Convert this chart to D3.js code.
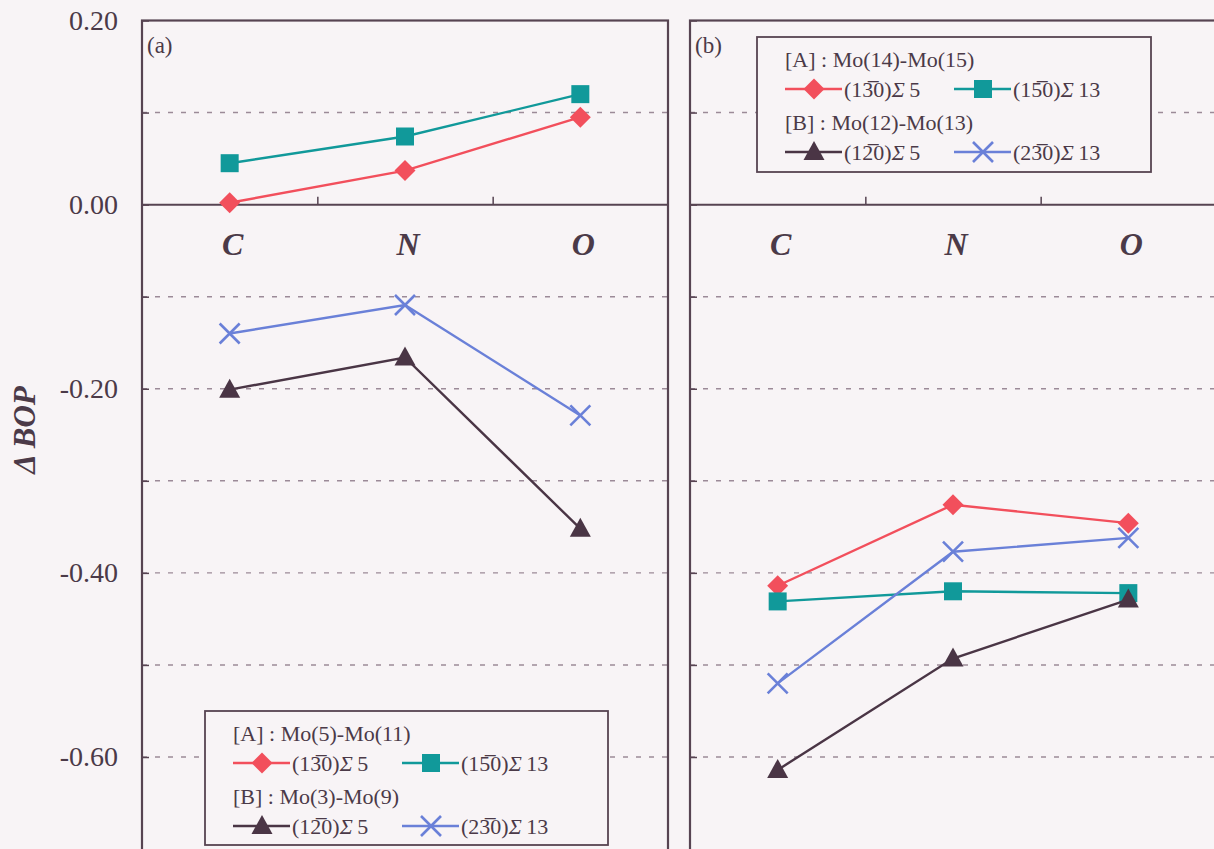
<!DOCTYPE html>
<html>
<head>
<meta charset="utf-8">
<script src="https://cdn.jsdelivr.net/npm/d3@7.9.0/dist/d3.min.js"></script>
<style>
  html, body { margin: 0; padding: 0; background: #f8f4f6; }
  svg { display: block; }
  text { font-family: "Liberation Serif", "Times New Roman", serif; fill: #4b3a48; }
</style>
</head>
<body>
<svg id="chart" width="1214" height="849"></svg>
<script>
// categories and tick values
const categories = ['C', 'N', 'O'];
const yTickLabels = [0.2, 0, -0.2, -0.4, -0.6];
const gridValues = [0.1, -0.1, -0.2, -0.3, -0.4, -0.5, -0.6];

// panel (a): [A] Mo(5)-Mo(11), [B] Mo(3)-Mo(9)
const aRed  = [0.002, 0.037, 0.095];
const aTeal = [0.045, 0.074, 0.120];
const aDark = [-0.201, -0.166, -0.352];
const aBlue = [-0.140, -0.109, -0.229];

// panel (b): [A] Mo(14)-Mo(15), [B] Mo(12)-Mo(13)
const bRed  = [-0.414, -0.326, -0.346];
const bTeal = [-0.431, -0.420, -0.422];
const bDark = [-0.614, -0.493, -0.429];
const bBlue = [-0.520, -0.377, -0.362];

// series names: [prefix, barred digit, suffix, sigma number]
const seriesNames = [
  ['(1', '3', '0)', '5'],
  ['(1', '5', '0)', '13'],
  ['(1', '2', '0)', '5'],
  ['(2', '3', '0)', '13']
];
const seriesColors = ['#f24f5c', '#11999a', '#4a3545', '#6a80d8'];
const seriesMarkers = ['diamond', 'square', 'triangle', 'cross'];

const axisColor = '#574452';

const svg = d3.select('#chart');

const y = d3.scaleLinear().domain([0.2, -0.6]).range([20.5, 757]);

const panels = [
  { label: '(a)', x0: 142, x1: 668, series: [aRed, aTeal, aDark, aBlue],
    legend: { x: 205, y: 711, w: 403, h: 134, pairs: ['[A] : Mo(5)-Mo(11)', '[B] : Mo(3)-Mo(9)'] } },
  { label: '(b)', x0: 690, x1: 1216, series: [bRed, bTeal, bDark, bBlue],
    legend: { x: 757, y: 37, w: 394, h: 135, pairs: ['[A] : Mo(14)-Mo(15)', '[B] : Mo(12)-Mo(13)'] } }
];

function drawMarker(g, type, cx, cy, color) {
  if (type === 'diamond') {
    g.append('path')
      .attr('d', d3.symbol().type(d3.symbolSquare).size(220)())
      .attr('transform', `translate(${cx},${cy}) rotate(45)`)
      .attr('fill', color);
  } else if (type === 'square') {
    g.append('rect')
      .attr('x', cx - 9).attr('y', cy - 9)
      .attr('width', 18).attr('height', 18)
      .attr('fill', color);
  } else if (type === 'triangle') {
    g.append('path')
      .attr('d', `M${cx},${cy - 11}L${cx + 10.5},${cy + 8}L${cx - 10.5},${cy + 8}Z`)
      .attr('fill', color);
  } else {
    g.append('path')
      .attr('d', `M${cx - 10},${cy - 10}L${cx + 10},${cy + 10}M${cx - 10},${cy + 10}L${cx + 10},${cy - 10}`)
      .attr('stroke', color).attr('stroke-width', 2.6).attr('fill', 'none');
  }
}

function seriesText(sel, name) {
  sel.append('tspan').text(name[0]);
  sel.append('tspan').text(name[1] + '\u0305');
  sel.append('tspan').text(name[2]);
  sel.append('tspan').attr('font-style', 'italic').text('\u03A3');
  sel.append('tspan').text('\u2009' + name[3]);
}

panels.forEach(p => {
  const x = d3.scaleBand().domain(categories).range([p.x0, p.x1]);
  const g = svg.append('g');

  // dashed grid lines
  g.selectAll('.grid')
    .data(gridValues)
    .join('line')
    .attr('x1', p.x0).attr('x2', p.x1)
    .attr('y1', d => y(d)).attr('y2', d => y(d))
    .attr('stroke', '#9c8a98').attr('stroke-width', 1.4)
    .attr('stroke-dasharray', '5,8');

  // left axis with inward ticks
  const leftAxis = d3.axisRight(y).tickValues(d3.range(-6, 3).map(d => d / 10)).tickSize(7).tickFormat('');
  const la = g.append('g').attr('transform', `translate(${p.x0},0)`).call(leftAxis);
  la.select('.domain').remove();
  la.selectAll('line').attr('stroke', axisColor).attr('stroke-width', 1.5);

  // zero line with ticks at band boundaries
  const zeroAxis = d3.axisTop(d3.scaleLinear().domain([0, 3]).range([p.x0, p.x1]))
    .tickValues([1, 2]).tickSize(8).tickFormat('');
  const za = g.append('g').attr('transform', `translate(0,${y(0)})`).call(zeroAxis);
  za.select('.domain').attr('stroke', axisColor).attr('stroke-width', 2).attr('d', `M${p.x0},0H${p.x1}`);
  za.selectAll('line').attr('stroke', axisColor).attr('stroke-width', 1.5);

  // category labels
  g.selectAll('.cat')
    .data(categories)
    .join('text')
    .attr('x', d => x(d) + x.bandwidth() / 2 + 3)
    .attr('y', y(0) + 50)
    .attr('text-anchor', 'middle')
    .attr('font-size', 32)
    .attr('font-weight', 'bold')
    .attr('font-style', 'italic')
    .text(d => d);

  // series lines and markers
  p.series.forEach((vals, i) => {
    const pts = vals.map((v, j) => [x(categories[j]) + x.bandwidth() / 2, y(v)]);
    g.append('path')
      .attr('d', d3.line()(pts))
      .attr('fill', 'none')
      .attr('stroke', seriesColors[i])
      .attr('stroke-width', 2.4);
    pts.forEach(pt => drawMarker(g, seriesMarkers[i], pt[0], pt[1], seriesColors[i]));
  });

  // panel frame
  g.append('rect')
    .attr('x', p.x0).attr('y', y(0.2))
    .attr('width', p.x1 - p.x0).attr('height', 900)
    .attr('fill', 'none').attr('stroke', axisColor).attr('stroke-width', 2.2);

  g.append('text')
    .attr('x', p.x0 + 5).attr('y', 53)
    .attr('font-size', 23)
    .text(p.label);

  // legend
  const L = p.legend;
  const lg = svg.append('g').attr('transform', `translate(${L.x},${L.y})`);
  lg.append('rect')
    .attr('width', L.w).attr('height', L.h)
    .attr('fill', '#f8f4f6').attr('stroke', axisColor).attr('stroke-width', 1.8);
  const rowY = [22, 52, 85, 115];
  const colX = [28, 197];
  L.pairs.forEach((t, k) => {
    lg.append('text')
      .attr('x', colX[0]).attr('y', rowY[k * 2] + 8)
      .attr('font-size', 22)
      .text(t);
    [0, 1].forEach(c => {
      const si = k * 2 + c;
      const lx = colX[c], ly = rowY[k * 2 + 1];
      lg.append('line')
        .attr('x1', lx).attr('x2', lx + 57)
        .attr('y1', ly).attr('y2', ly)
        .attr('stroke', seriesColors[si]).attr('stroke-width', 2.4);
      drawMarker(lg, seriesMarkers[si], lx + 29, ly, seriesColors[si]);
      const tx = lg.append('text')
        .attr('x', lx + 59).attr('y', ly + 8)
        .attr('font-size', 22);
      seriesText(tx, seriesNames[si]);
    });
  });
});

// y tick labels on the left of panel (a)
svg.append('g')
  .selectAll('text')
  .data(yTickLabels)
  .join('text')
  .attr('x', 118)
  .attr('y', d => y(d) + 9)
  .attr('text-anchor', 'end')
  .attr('font-size', 28)
  .text(d => d3.format('.2f')(d).replace('\u2212', '-'));

// y axis title
svg.append('text')
  .attr('transform', 'translate(35,430) rotate(-90)')
  .attr('text-anchor', 'middle')
  .attr('font-size', 31)
  .attr('font-weight', 'bold')
  .attr('font-style', 'italic')
  .text('\u0394 BOP');
</script>
</body>
</html>
